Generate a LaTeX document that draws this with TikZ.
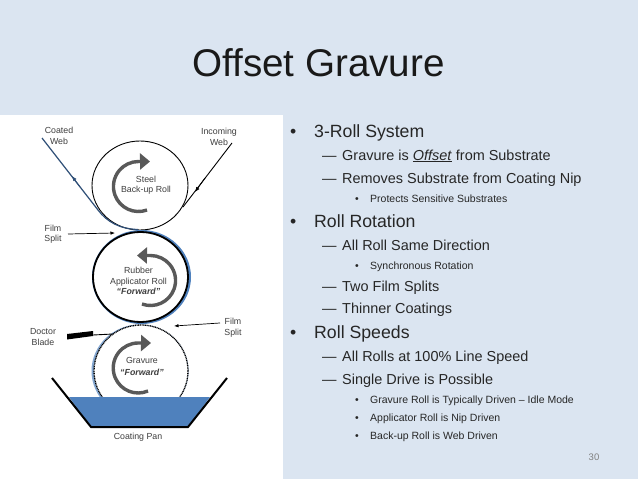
\documentclass[tikz,border=0pt]{standalone}
\usepackage{fontspec}
\setmainfont{Liberation Sans}
\usepackage{tikz}
\usetikzlibrary{arrows,arrows.meta,positioning,shapes.geometric}
\definecolor{slidebg}{HTML}{DBE5F1}
\definecolor{coatblue}{HTML}{4F81BD}
\definecolor{webblue}{HTML}{2F4F77}
\definecolor{rotgray}{HTML}{595959}
\definecolor{txtgray}{HTML}{3F3F3F}
\tikzset{
  lbl/.style={align=center,font=\fontsize{8.8}{10.5}\selectfont,text=txtgray,inner sep=0pt},
  lvla/.style={anchor=base west,inner sep=0pt,font=\fontsize{17.7}{20}\selectfont,text=black!85},
  lvlb/.style={anchor=base west,inner sep=0pt,font=\fontsize{14.45}{16}\selectfont,text=black!85},
  lvlc/.style={anchor=base west,inner sep=0pt,font=\fontsize{10.5}{12}\selectfont,text=black!85},
  rollshape/.style={ellipse,fill=white,inner sep=0pt},
  rotarrow/.style={draw=rotgray,line width=3.4pt,-{Triangle[length=10pt,width=16pt]}},
  pointer/.style={draw=black,line width=0.7pt,-{Latex[length=4.5pt,width=3.5pt]}}
}
\begin{document}
\begin{tikzpicture}[x=1pt,y=1pt,yscale=-1]
\useasboundingbox (0,0) rectangle (638,479);
\fill[slidebg] (0,0) rectangle (638,479);
\fill[white] (0,114.5) rectangle (282.5,479);
\node[anchor=base,inner sep=0pt,font=\fontsize{38.6}{40}\selectfont,text=black!90] (title) at (318.5,76) {Offset Gravure};
%%%%%%%%%%%%%%%%
% rolls
\node[rollshape,draw=black,line width=0.9pt,minimum width=96pt,minimum height=89pt] (steel) at (140,185.5) {};
\fill[coatblue] (141.5,277) ellipse (49.5 and 47);
\node[rollshape,draw=black,line width=1.8pt,minimum width=95pt,minimum height=90pt] (rubber) at (140.5,277) {};
\fill[coatblue!70] (140,371) ellipse (48.5 and 46.5);
\node[rollshape,draw=black,line width=1.3pt,dash pattern=on 1pt off 0.7pt,minimum width=94pt,minimum height=92pt] (gravure) at (141,371) {};
%%%%%%%%%%%%%%%%
% rotation arrows
\draw[rotarrow] (147,210) arc (70:270:25) -- (150,161.5);
\draw[rotarrow] (142,304) arc (110:-90:25) -- (137,255.5);
\draw[rotarrow] (148,391) arc (67:270:25) -- (151,343);
%%%%%%%%%%%%%%%%
% pan
\fill[coatblue] (69,397) -- (210,397) -- (188,427) -- (91,427) -- cycle;
\draw[black,line width=2pt] (52,378) -- (91,427) -- (188,427) -- (227,378);
%%%%%%%%%%%%%%%%
% webs
\coordinate (coatedend) at (42,138);
\coordinate (incomingend) at (232,143);
\draw[webblue,line width=1.2pt] (coatedend) -- (98,210) .. controls (107,222) and (120,229) .. (138,229.5);
\draw[black,line width=0.9pt] (incomingend) -- (183,207);
\draw[-{Latex[length=5pt,width=4pt]},webblue,line width=0.8pt] (80,187) -- (72,176);
\draw[-{Latex[length=5pt,width=4pt]},black,line width=0.8pt] (205,178) -- (195,192);
%%%%%%%%%%%%%%%%
% doctor blade
\fill[black] (67,334) -- (93,331) -- (93,336) -- (67,339.5) -- cycle;
\draw[black,line width=0.9pt] (93,335) -- (113,334);
%%%%%%%%%%%%%%%%
% labels
\node[lbl] (coated) at (59,136) {Coated\\Web};
\node[lbl] (incoming) at (219,137) {Incoming\\Web};
\node[lbl] (steeltxt) at (146,185) {Steel\\Back-up Roll};
\node[lbl] (split1) at (53,234) {Film\\Split};
\node[lbl] (split2) at (233,327.5) {Film\\Split};
\node[lbl] (rubbertxt) at (138.5,281) {Rubber\\Applicator Roll\\\textbf{\textit{``Forward''}}};
\node[lbl] (doctor) at (43,337) {Doctor\\Blade};
\node[lbl] (gravuretxt) at (142,366) {Gravure\\[1.5pt]\textbf{\textit{``Forward''}}};
\node[lbl] (pantxt) at (138,437) {Coating Pan};
\coordinate (from1) at (68,234);
\coordinate (nip1) at (115,233);
\coordinate (from2) at (220,323);
\coordinate (nip2) at (174,326);
\draw[pointer] (from1) -- (nip1);
\draw[pointer] (from2) -- (nip2);
%%%%%%%%%%%%%%%%
% bullets
\node[lvla] at (290,137.5) {•};
\node[lvla] (a1) at (314,137.5) {3-Roll System};
\node[lvlb] at (322,160) {—};
\node[lvlb] at (342,160) {Gravure is \underline{\textit{Offset}} from Substrate};
\node[lvlb] at (322,183) {—};
\node[lvlb] at (342,183) {Removes Substrate from Coating Nip};
\node[lvlc] at (355,202) {•};
\node[lvlc] at (370,202) {Protects Sensitive Substrates};
\node[lvla] at (290,227) {•};
\node[lvla] (a2) at (314,227) {Roll Rotation};
\node[lvlb] at (322,250) {—};
\node[lvlb] at (342,250) {All Roll Same Direction};
\node[lvlc] at (355,269) {•};
\node[lvlc] at (370,269) {Synchronous Rotation};
\node[lvlb] at (322,291) {—};
\node[lvlb] at (342,291) {Two Film Splits};
\node[lvlb] at (322,313) {—};
\node[lvlb] at (342,313) {Thinner Coatings};
\node[lvla] at (290,338) {•};
\node[lvla] (a3) at (314,338) {Roll Speeds};
\node[lvlb] at (322,361.5) {—};
\node[lvlb] at (342,361.5) {All Rolls at 100\% Line Speed};
\node[lvlb] at (322,384) {—};
\node[lvlb] at (342,384) {Single Drive is Possible};
\node[lvlc] at (355,403) {•};
\node[lvlc] at (370,403) {Gravure Roll is Typically Driven – Idle Mode};
\node[lvlc] at (355,421) {•};
\node[lvlc] at (370,421) {Applicator Roll is Nip Driven};
\node[lvlc] at (355,439) {•};
\node[lvlc] at (370,439) {Back-up Roll is Web Driven};
\node[anchor=base,inner sep=0pt,font=\fontsize{9.5}{11}\selectfont,text=black!50] (pagenum) at (594,460) {30};
\end{tikzpicture}
\end{document}
